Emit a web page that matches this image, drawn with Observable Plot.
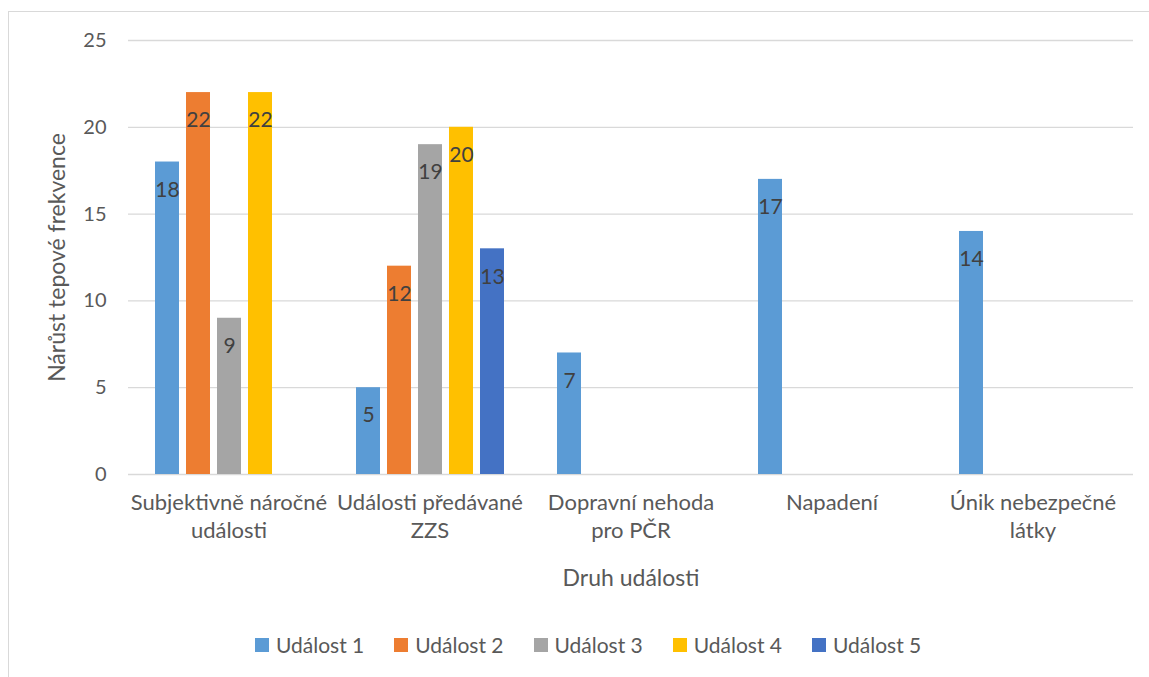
<!DOCTYPE html>
<html>
<head>
<meta charset="utf-8">
<script src="https://cdn.jsdelivr.net/npm/d3@7"></script>
<script src="https://cdn.jsdelivr.net/npm/@observablehq/plot@0.6"></script>
<style>
  html, body { margin: 0; padding: 0; background: #fff; }
  body { width: 1149px; height: 677px; position: relative; overflow: hidden; font-family: Lato, "Open Sans", sans-serif; }
  #frame { position: absolute; left: 8px; top: 11px; width: 1200px; height: 700px;
           border-left: 1px solid #d9d9d9; border-top: 1px solid #d9d9d9; }
  #chart { position: absolute; left: 0; top: 0; }
  #chart g[aria-label$="axis label"] { font-size: 23px; }
  #legend { position: absolute; top: 633px; left: 255px; display: flex; font-size: 21px; color: #595959; line-height: 24px; }
  #legend .item { display: flex; align-items: center; width: 139.25px; white-space: nowrap; }
  #legend .sw { width: 14px; height: 14px; margin-right: 7px; flex: none; }
</style>
</head>
<body>
<div id="frame"></div>
<div id="chart"></div>
<div id="legend"></div>
<script>
// Kategorie událostí (osa x) a jejich zalomené popisky
const categories = [
  "Subjektivně náročné události",
  "Události předávané ZZS",
  "Dopravní nehoda pro PČR",
  "Napadení",
  "Únik nebezpečné látky"
];
const categoryLabels = [
  "Subjektivně náročné\nudálosti",
  "Události předávané\nZZS",
  "Dopravní nehoda\npro PČR",
  "Napadení",
  "Únik nebezpečné\nlátky"
];

// Série a jejich hodnoty (null = bez hodnoty)
const seriesNames = ["Událost 1", "Událost 2", "Událost 3", "Událost 4", "Událost 5"];
const udalost1 = [18, 5, 7, 17, 14];
const udalost2 = [22, 12, null, null, null];
const udalost3 = [9, 19, null, null, null];
const udalost4 = [22, 20, null, null, null];
const udalost5 = [null, 13, null, null, null];
const seriesColors = ["#5B9BD5", "#ED7D31", "#A5A5A5", "#FFC000", "#4472C4"];

const yTicks = [0, 5, 10, 15, 20, 25];

// Dlouhá tabulka pro Plot
const seriesValues = [udalost1, udalost2, udalost3, udalost4, udalost5];
const rows = [];
categories.forEach((c, i) => {
  seriesNames.forEach((s, j) => {
    const v = seriesValues[j][i];
    if (v != null) rows.push({category: c, series: s, value: v});
  });
});
const labelOf = new Map(categories.map((c, i) => [c, categoryLabels[i]]));

const chart = Plot.plot({
  width: 1149,
  height: 677,
  marginLeft: 128,
  marginRight: 16,
  marginTop: 40,
  marginBottom: 203,
  style: {fontFamily: "Lato, 'Open Sans', sans-serif", fontSize: "20px", color: "#595959", background: "transparent"},
  fx: {domain: categories, padding: 0},
  x: {domain: seriesNames, paddingInner: 0.226, paddingOuter: 0.853, axis: null},
  y: {domain: [0, 25]},
  color: {domain: seriesNames, range: seriesColors},
  marks: [
    Plot.gridY(yTicks, {stroke: "#d9d9d9", strokeOpacity: 1, strokeWidth: 1.3}),
    Plot.barY(rows, {fx: "category", x: "series", y: "value", fill: "series"}),
    Plot.text(rows, {
      fx: "category", x: "series", y: "value", text: "value",
      dy: 28, fill: "#404040", fontSize: 21, lineAnchor: "middle"
    }),
    Plot.axisY(yTicks, {
      tickSize: 0, tickPadding: 22, fontSize: 20,
      label: "Nárůst tepové frekvence", labelAnchor: "center", labelArrow: "none", labelOffset: 80
    }),
    Plot.axisFx({
      anchor: "bottom",
      tickSize: 0, tickPadding: 15, fontSize: 22, lineHeight: 1.28,
      tickFormat: d => labelOf.get(d),
      label: "Druh události", labelAnchor: "center", labelArrow: "none", labelOffset: 111
    })
  ]
});
document.getElementById("chart").appendChild(chart);

// Legenda pod grafem
const legend = document.getElementById("legend");
seriesNames.forEach((s, i) => {
  const item = document.createElement("div");
  item.className = "item";
  const sw = document.createElement("span");
  sw.className = "sw";
  sw.style.background = seriesColors[i];
  const t = document.createElement("span");
  t.textContent = s;
  item.appendChild(sw);
  item.appendChild(t);
  legend.appendChild(item);
});
</script>
</body>
</html>
